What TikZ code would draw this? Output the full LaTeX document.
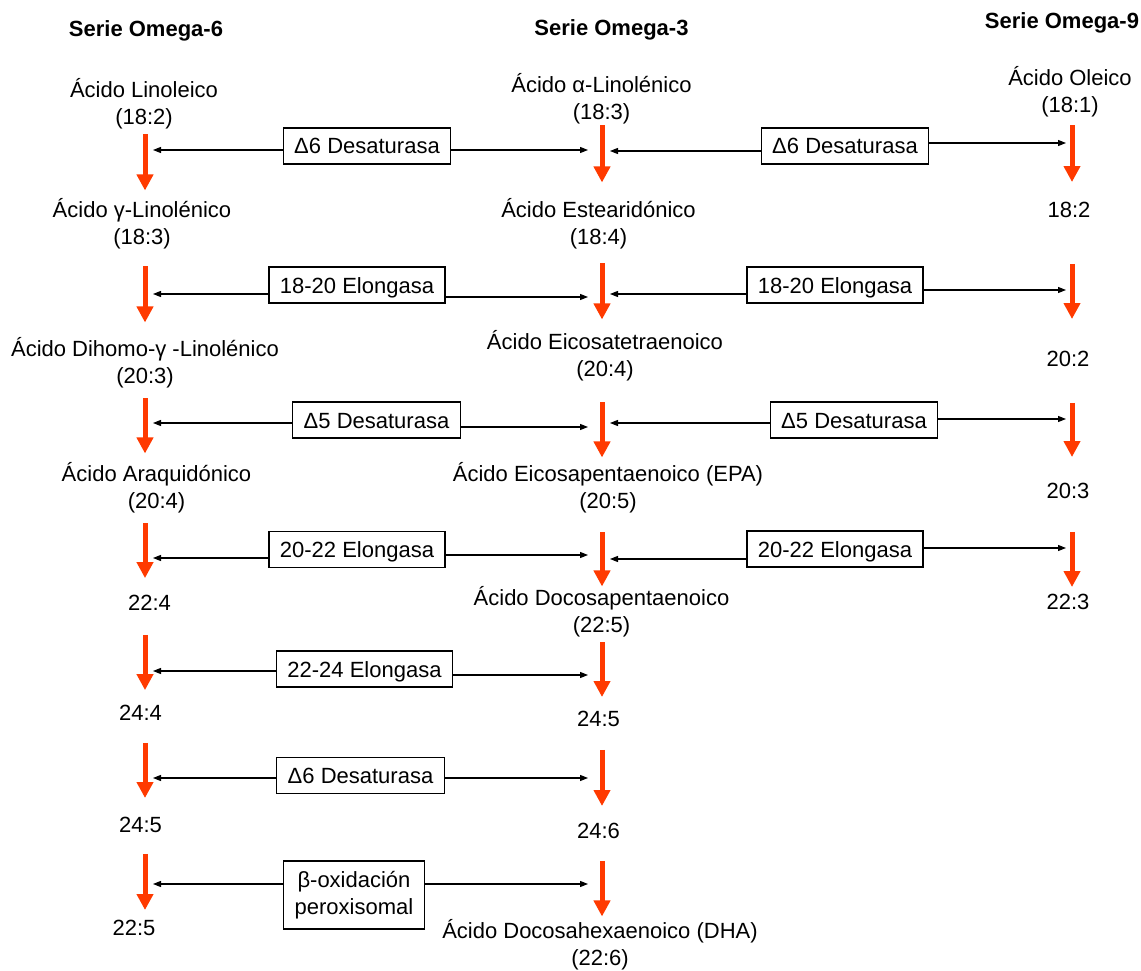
\documentclass[tikz,border=0pt]{standalone}
\usepackage{fontspec}
\setmainfont{Liberation Sans}
\usepackage{xcolor}
\usetikzlibrary{arrows.meta}
\definecolor{omegared}{RGB}{255,58,0}
\tikzset{every node/.style={align=center}}
\tikzset{
  acid/.style={inner sep=0pt,font=\fontsize{22}{27}\selectfont},
  serie/.style={inner sep=0pt,font=\fontsize{22}{27}\selectfont\bfseries},
  enz/.style={draw,line width=1.3pt,inner xsep=11pt,inner ysep=10pt,font=\fontsize{22}{27}\selectfont},
  enzone/.style={enz,text height=16pt,text depth=0pt},
  flow/.style={draw=omegared,line width=5pt,-{Triangle[length=16pt,width=16pt]}},
  link/.style={line width=1.1pt,-{Triangle[length=8pt,width=6pt]}}
}

\begin{document}
\begin{tikzpicture}[x=1pt,y=-1pt]
\useasboundingbox (0,0) rectangle (1141,971);
\coordinate (c6) at (145,0);
\coordinate (c3) at (602,0);
\coordinate (c9) at (1072,0);

\node[serie] (H6) at (146,31) {Serie Omega-6};
\node[serie] (H3) at (611.5,29.5) {Serie Omega-3};
\node[serie] (H9) at (1062,22.5) {Serie Omega-9};

% omega-6
\node[acid] (A1) at (144,104) {Ácido Linoleico\\(18:2)};
\node[acid] (A2) at (142,224) {Ácido γ-Linolénico\\(18:3)};
\node[acid] (A3) at (145,363) {Ácido Dihomo-γ -Linolénico\\(20:3)};
\node[acid] (A4) at (156.5,488) {Ácido Araquidónico\\(20:4)};
\node[acid] (A5) at (149.5,603) {22:4};
\node[acid] (A6) at (140.5,713) {24:4};
\node[acid] (A7) at (140.5,825) {24:5};
\node[acid] (A8) at (134,928) {22:5};

% omega-3
\node[acid] (B1) at (601.5,99) {Ácido α-Linolénico\\(18:3)};
\node[acid] (B2) at (598.5,224) {Ácido Estearidónico\\(18:4)};
\node[acid] (B3) at (605,356) {Ácido Eicosatetraenoico\\(20:4)};
\node[acid] (B4) at (608,488) {Ácido Eicosapentaenoico (EPA)\\(20:5)};
\node[acid] (B5) at (601.5,612) {Ácido Docosapentaenoico\\(22:5)};
\node[acid] (B6) at (598.5,719) {24:5};
\node[acid] (B7) at (598.5,831) {24:6};
\node[acid] (B8) at (600,945) {Ácido Docosahexaenoico (DHA)\\(22:6)};

% omega-9
\node[acid] (C1) at (1070,92) {Ácido Oleico\\(18:1)};
\node[acid] (C2) at (1069,210) {18:2};
\node[acid] (C3) at (1068,359) {20:2};
\node[acid] (C4) at (1068,491) {20:3};
\node[acid] (C5) at (1068,602) {22:3};

% enzimas
\node[enzone] (E1) at (367,146) {Δ6 Desaturasa};
\node[enzone] (E2) at (357,285) {18-20 Elongasa};
\node[enzone] (E3) at (376.5,420) {Δ5 Desaturasa};
\node[enzone] (E4) at (357,549.5) {20-22 Elongasa};
\node[enzone] (E5) at (364.5,669) {22-24 Elongasa};
\node[enzone] (E6) at (360.5,775.5) {Δ6 Desaturasa};
\node[enz] (E7) at (354,895) {β-oxidación\\peroxisomal};
\node[enzone] (F1) at (845,146) {Δ6 Desaturasa};
\node[enzone] (F2) at (835,285) {18-20 Elongasa};
\node[enzone] (F3) at (854,420) {Δ5 Desaturasa};
\node[enzone] (F4) at (835,549) {20-22 Elongasa};

% red arrows
\foreach \a/\b/\s/\e in {A1/A2/4.5/8,A2/A3/16.5/15,A3/A4/9.5/9,A4/A5/9.5/17,A5/A6/24/15,A6/A7/22/19,A7/A8/21/10}
  \draw[flow,shorten <=\s pt,shorten >=\e pt] (\a.south -| c6) -- (\b.north -| c6);
\foreach \a/\b/\s/\e in {B1/B2/0.5/16,B2/B3/13.5/11,B3/B4/20.5/5,B4/B5/18.5/0,B5/B6/4.5/14,B6/B7/23/17,B7/B8/22/3}
  \draw[flow,shorten <=\s pt,shorten >=\e pt] (\a.south -| c3) -- (\b.north -| c3);
\foreach \a/\b/\s/\e in {C1/C2/7.5/20,C2/C3/46/32,C3/C4/36/26,C4/C5/33/7}
  \draw[flow,shorten <=\s pt,shorten >=\e pt] (\a.south -| c9) -- (\b.north -| c9);

% black arrows
\foreach \n/\l/\r in {E1/-4/-4,E2/-9/-12,E3/-3/-7,E4/-8.5/-5.5,E5/-2/-6,E6/-2.5/-2.5,E7/11/11} {
  \path ([yshift=\l pt]\n.west) coordinate (p) ([yshift=\r pt]\n.east) coordinate (q);
  \draw[link,shorten >=8pt] (p) -- (p -| c6);
  \draw[link,shorten >=14pt] (q) -- (q -| c3);
}
\foreach \n/\l/\r in {F1/-5/3,F2/-9/-5,F3/-3/1,F4/-10/1} {
  \path ([yshift=\l pt]\n.west) coordinate (p) ([yshift=\r pt]\n.east) coordinate (q);
  \draw[link,shorten >=8pt] (p) -- (p -| c3);
  \draw[link,shorten >=6pt] (q) -- (q -| c9);
}
\end{tikzpicture}
\end{document}
